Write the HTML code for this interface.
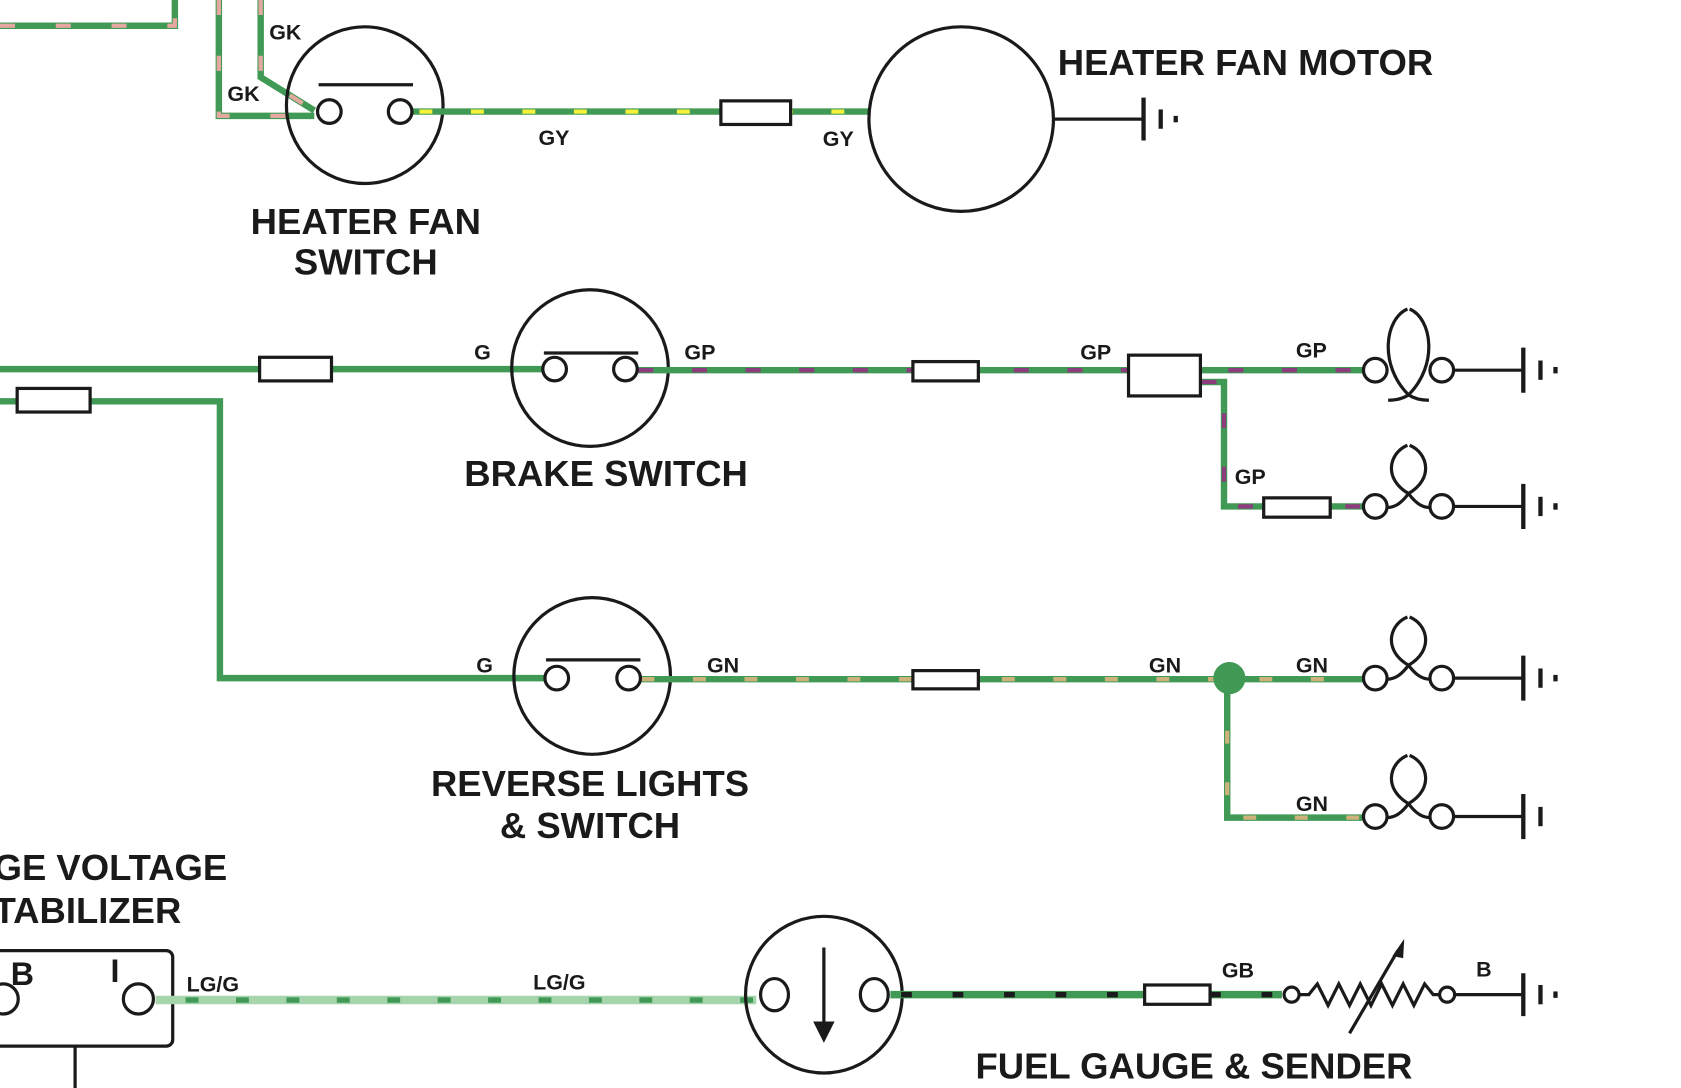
<!DOCTYPE html>
<html><head><meta charset="utf-8"><style>
html,body{margin:0;padding:0;background:#fff;overflow:hidden}
svg{display:block}
text{font-family:"Liberation Sans",sans-serif;font-weight:bold;fill:#1a1a1a}
.w{fill:none;stroke:#409a55;stroke-width:6}
.k{fill:none;stroke:#1a1a1a;stroke-width:3}
.f{fill:#fff;stroke:#1a1a1a;stroke-width:3}
.lbl{font-size:20px}
.big{font-size:34px}
</style></head><body>
<svg width="1681" height="1088" viewBox="0 0 1567 1014" preserveAspectRatio="none">
<defs>
<g id="gnd">
<line x1="0" y1="-20" x2="0" y2="20" stroke="#1a1a1a" stroke-width="4"/>
<line x1="16" y1="-9" x2="16" y2="9" stroke="#1a1a1a" stroke-width="4"/>
<rect x="28" y="-3" width="4" height="6" fill="#1a1a1a"/>
</g>
<g id="bulbbase">
<circle class="f" cx="-31" cy="0" r="11"/><circle class="f" cx="31" cy="0" r="11"/>
<line class="k" x1="42" y1="0" x2="107" y2="0"/>
<line x1="107" y1="-21" x2="107" y2="21" stroke="#1a1a1a" stroke-width="4"/>
<line x1="123" y1="-9" x2="123" y2="9" stroke="#1a1a1a" stroke-width="4"/>
</g>
<path id="lobe" class="k" d="M-20,1 C-12,1 -6,-4 0,-12 C-24,-26 -18,-50 -1,-57 M1,-57 C18,-50 24,-26 0,-12 C6,-4 12,1 20,1"/>
<g id="bulb">
<use href="#lobe"/>
<use href="#bulbbase"/>
<rect x="135" y="-3" width="4" height="6" fill="#1a1a1a"/>
</g>
</defs>

<g>
<path class="w" d="M0,24 H163 V0"/>
<path d="M0,24 H163 V0" fill="none" stroke="#e3a8a0" stroke-width="4" stroke-dasharray="14,38"/>
<path class="w" d="M204,0 V108 H293"/>
<path d="M204,0 V108 H293" fill="none" stroke="#e3a8a0" stroke-width="4" stroke-dasharray="14,38"/>
<path class="w" d="M243,0 V72 L293,103"/>
<path d="M243,0 V72 L293,103" fill="none" stroke="#e3a8a0" stroke-width="4" stroke-dasharray="14,38"/>
</g>
<text class="lbl" x="251" y="37">GK</text>
<text class="lbl" x="212" y="94">GK</text>

<circle class="k" cx="340" cy="98" r="73"/>
<line class="k" x1="297" y1="79" x2="385" y2="79"/>
<line class="w" x1="385" y1="104" x2="810" y2="104"/>
<line x1="385" y1="104" x2="810" y2="104" stroke="#f4f03c" stroke-width="4" stroke-dasharray="12,36" stroke-dashoffset="-6"/>
<circle class="f" cx="307" cy="104" r="11"/><circle class="f" cx="373" cy="104" r="11"/>
<rect class="f" x="672" y="94" width="65" height="22"/>
<text class="lbl" x="502" y="135">GY</text>
<text class="lbl" x="767" y="136">GY</text>
<text class="big" x="341" y="218" text-anchor="middle">HEATER FAN</text>
<text class="big" x="341" y="256" text-anchor="middle">SWITCH</text>

<circle class="k" cx="896" cy="111" r="86"/>
<line class="k" x1="982" y1="111" x2="1066" y2="111"/>
<use href="#gnd" x="1066" y="111"/>
<text class="big" x="986" y="70">HEATER FAN MOTOR</text>

<line class="w" x1="0" y1="344" x2="505" y2="344"/>
<rect class="f" x="242" y="333" width="67" height="22"/>
<text class="lbl" x="442" y="335">G</text>
<circle class="k" cx="550" cy="343" r="73"/>
<line class="k" x1="507" y1="329" x2="595" y2="329"/>
<path class="w" d="M595,345 H1270 M1120,356 H1141 V472 H1270"/>
<path d="M595,345 H1270 M1120,356 H1141 V472 H1270" fill="none" stroke="#8b3d7d" stroke-width="4" stroke-dasharray="14,36"/>
<circle class="f" cx="517" cy="344" r="11"/><circle class="f" cx="583" cy="344" r="11"/>
<rect class="f" x="851" y="337" width="61" height="18"/>
<rect class="f" x="1052" y="331" width="67" height="38"/>
<rect class="f" x="1178" y="464" width="62" height="18"/>
<text class="lbl" x="638" y="335">GP</text>
<text class="lbl" x="1007" y="335">GP</text>
<text class="lbl" x="1208" y="333">GP</text>
<text class="lbl" x="1151" y="451">GP</text>
<text class="big" x="565" y="453" text-anchor="middle">BRAKE SWITCH</text>

<g transform="translate(1313,345)">
<use href="#bulbbase"/>
<rect x="135" y="-3" width="4" height="6" fill="#1a1a1a"/>
<path class="k" d="M-19,28 C-12,28 -6,27 0,23 C-28,-5 -22,-48 -1,-57 M1,-57 C22,-48 28,-5 0,23 C6,27 12,28 19,28"/>
</g>
<use href="#bulb" x="1313" y="472"/>

<path class="w" d="M0,374 H205 V632 H507"/>
<rect class="f" x="16" y="362" width="68" height="22"/>
<text class="lbl" x="444" y="627">G</text>
<circle class="k" cx="552" cy="630" r="73"/>
<line class="k" x1="509" y1="615" x2="597" y2="615"/>
<path class="w" d="M598,633 H1270 M1144,633 V762 H1270"/>
<path d="M598,633 H1270 M1144,633 V762 H1270" fill="none" stroke="#cdb27c" stroke-width="4" stroke-dasharray="12,36"/>
<circle class="f" cx="519" cy="632" r="11"/><circle class="f" cx="586" cy="632" r="11"/>
<rect class="f" x="851" y="625" width="61" height="17"/>
<circle cx="1146" cy="632" r="15" fill="#409a55"/>
<text class="lbl" x="659" y="627">GN</text>
<text class="lbl" x="1071" y="627">GN</text>
<text class="lbl" x="1208" y="627">GN</text>
<text class="lbl" x="1208" y="756">GN</text>
<use href="#bulb" x="1313" y="632"/>
<g transform="translate(1313,761)">
<use href="#lobe"/>
<use href="#bulbbase"/>
</g>
<text class="big" x="550" y="742" text-anchor="middle">REVERSE LIGHTS</text>
<text class="big" x="550" y="781" text-anchor="middle">&amp; SWITCH</text>

<text class="big" x="-6" y="820">GE VOLTAGE</text>
<text class="big" x="-6" y="860">TABILIZER</text>
<rect class="k" x="-10" y="886" width="171" height="89" rx="6"/>
<line class="k" x1="70" y1="975" x2="70" y2="1014"/>
<text x="10" y="918" style="font-size:30px">B</text>
<text x="103" y="915" style="font-size:30px">I</text>
<line x1="145" y1="932" x2="705" y2="932" stroke="#a6d4ac" stroke-width="8"/>
<line x1="145" y1="932" x2="705" y2="932" stroke="#409a55" stroke-width="5" stroke-dasharray="12,35" stroke-dashoffset="-28"/>
<circle class="f" cx="3" cy="931" r="14"/><circle class="f" cx="129" cy="931" r="14"/>
<text class="lbl" x="174" y="924">LG/G</text>
<text class="lbl" x="497" y="922">LG/G</text>

<circle class="k" cx="768" cy="927" r="73"/>
<line class="k" x1="768" y1="883" x2="768" y2="955"/>
<path d="M758,952 L778,952 L768,972 Z" fill="#1a1a1a"/>
<line x1="830" y1="927" x2="1195" y2="927" stroke="#409a55" stroke-width="7"/>
<line x1="830" y1="927" x2="1195" y2="927" stroke="#1a1a1a" stroke-width="5" stroke-dasharray="10,38" stroke-dashoffset="-10"/>
<ellipse class="f" cx="722" cy="927" rx="13" ry="15"/><ellipse class="f" cx="815" cy="927" rx="13" ry="15"/>
<rect class="f" x="1067" y="918" width="61" height="18"/>
<text class="lbl" x="1139" y="911">GB</text>
<path class="k" d="M1211,927 L1220,927 L1228,917 L1238,937 L1248,917 L1258,937 L1268,917 L1278,937 L1288,917 L1298,937 L1308,917 L1318,937 L1328,917 L1336,927 L1342,927"/>
<circle class="f" cx="1204" cy="927" r="7"/><circle class="f" cx="1349" cy="927" r="7"/>
<line class="k" x1="1258" y1="963" x2="1303" y2="886"/>
<path d="M1309,875 L1298,891 L1308,893 Z" fill="#1a1a1a"/>
<line class="k" x1="1356" y1="927" x2="1420" y2="927"/>
<use href="#gnd" x="1420" y="927"/>
<text class="lbl" x="1376" y="910">B</text>
<text class="big" x="1113" y="1005" text-anchor="middle">FUEL GAUGE &amp; SENDER</text>
</svg>
</body></html>
